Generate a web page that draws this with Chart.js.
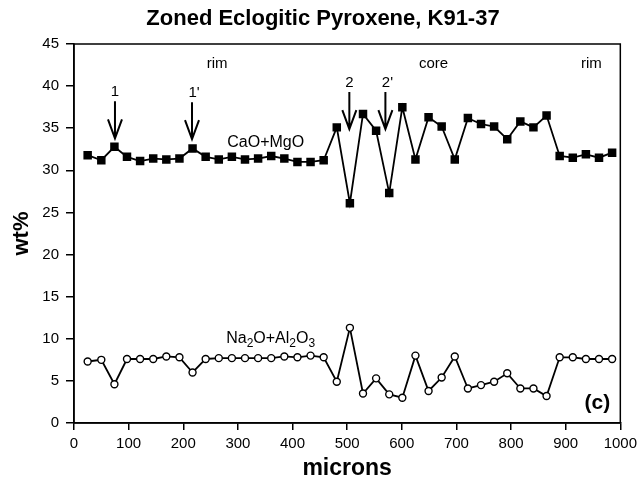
<!DOCTYPE html>
<html>
<head>
<meta charset="utf-8">
<script src="https://cdn.jsdelivr.net/npm/chart.js@4"></script>
<style>
  html, body { margin: 0; padding: 0; background: #fff; }
  #wrap { width: 642px; height: 491px; }
</style>
</head>
<body>
<div id="wrap"><canvas id="myChart" width="642" height="491"></canvas></div>
<script>
// distance along the traverse (microns)
const microns = [25, 50, 74, 97, 121, 145, 169, 193, 217, 241, 265, 289, 313, 337, 361, 385, 409, 433, 457, 481,
    505, 529, 553, 577, 601, 625, 649, 673, 697, 721, 745, 769, 793, 817, 841, 865, 889, 913, 937, 961, 985];

// CaO+MgO, wt%
const caoMgo = [31.8, 31.2, 32.8, 31.6, 31.1, 31.4, 31.3, 31.4, 32.6, 31.6, 31.3, 31.6, 31.3, 31.4, 31.7, 31.4, 31.0, 31.0, 31.2, 35.1,
    26.1, 36.7, 34.7, 27.3, 37.5, 31.3, 36.3, 35.2, 31.3, 36.2, 35.5, 35.2, 33.7, 35.8, 35.1, 36.5, 31.7, 31.5, 31.9, 31.5, 32.1];

// Na2O+Al2O3, wt%
const na2oAl2o3 = [7.3, 7.5, 4.6, 7.6, 7.6, 7.6, 7.9, 7.8, 6.0, 7.6, 7.7, 7.7, 7.7, 7.7, 7.7, 7.9, 7.8, 8.0, 7.8, 4.9,
    11.3, 3.5, 5.3, 3.4, 3.0, 8.0, 3.8, 5.4, 7.9, 4.1, 4.5, 4.9, 5.9, 4.1, 4.1, 3.2, 7.8, 7.8, 7.6, 7.6, 7.6];

// annotations (data coords)
const zoneLabels = ['rim', 'core', 'rim'];
const zoneX = [262, 658, 947];
const arrowLabels = ['1', "1'", '2', "2'"];
const arrowX = [75, 216, 504, 570];
const arrowTip = [33.8, 33.7, 34.9, 34.9];

const FONT = "'Liberation Sans', Helvetica, Arial, sans-serif";

function toPoints(xs, ys) {
    return xs.map((x, i) => ({ x: x, y: ys[i] }));
}

const annotations = {
    id: 'annotations',
    afterDatasetsDraw(chart) {
        const ctx = chart.ctx;
        const xs = chart.scales.x, ys = chart.scales.y;
        const a = chart.chartArea;
        ctx.save();

        // frame
        ctx.strokeStyle = '#000';
        ctx.lineWidth = 1.5;
        ctx.strokeRect(a.left, a.top, a.right - a.left, a.bottom - a.top);

        ctx.fillStyle = '#000';
        ctx.textAlign = 'center';
        ctx.textBaseline = 'middle';

        // zone labels
        ctx.font = '15px ' + FONT;
        zoneLabels.forEach((t, i) => ctx.fillText(t, xs.getPixelForValue(zoneX[i]), ys.getPixelForValue(42.6)));

        // arrows
        arrowLabels.forEach((t, i) => {
            const px = xs.getPixelForValue(arrowX[i]);
            const tip = ys.getPixelForValue(arrowTip[i]);
            const tail = tip - 37;
            ctx.font = '15px ' + FONT;
            ctx.fillText(t, px + (t.length > 1 ? 2 : 0), tail - 9);
            ctx.lineWidth = 2;
            ctx.beginPath();
            ctx.moveTo(px, tail);
            ctx.lineTo(px, tip);
            ctx.moveTo(px - 7, tip - 19);
            ctx.lineTo(px, tip);
            ctx.lineTo(px + 7, tip - 19);
            ctx.stroke();
        });

        // series labels
        ctx.font = '16px ' + FONT;
        ctx.fillText('CaO+MgO', xs.getPixelForValue(351), ys.getPixelForValue(33.3));

        const nx = xs.getPixelForValue(360), ny = ys.getPixelForValue(10.0);
        const parts = [['Na', 0], ['2', 1], ['O+Al', 0], ['2', 1], ['O', 0], ['3', 1]];
        let w = 0;
        parts.forEach(p => { ctx.font = (p[1] ? '12px ' : '16px ') + FONT; w += ctx.measureText(p[0]).width; });
        let cx = nx - w / 2;
        ctx.textAlign = 'left';
        parts.forEach(p => {
            ctx.font = (p[1] ? '12px ' : '16px ') + FONT;
            ctx.fillText(p[0], cx, ny + (p[1] ? 5 : 0));
            cx += ctx.measureText(p[0]).width;
        });

        ctx.textAlign = 'center';
        ctx.font = 'bold 21px ' + FONT;
        ctx.fillText('(c)', xs.getPixelForValue(958), ys.getPixelForValue(2.3));
        ctx.restore();
    }
};

const ctx = document.getElementById('myChart').getContext('2d');
const chart = new Chart(ctx, {
    type: 'line',
    data: {
        datasets: [{
            label: 'CaO+MgO',
            data: toPoints(microns, caoMgo),
            borderColor: '#000',
            backgroundColor: '#000',
            borderWidth: 1.8,
            pointStyle: 'rect',
            pointRadius: 6,
            pointBorderWidth: 0,
            tension: 0
        }, {
            label: 'Na2O+Al2O3',
            data: toPoints(microns, na2oAl2o3),
            borderColor: '#000',
            backgroundColor: '#fff',
            borderWidth: 1.8,
            pointStyle: 'circle',
            pointRadius: 3.5,
            pointBorderWidth: 1.4,
            tension: 0
        }]
    },
    options: {
        responsive: false,
        animation: false,
        // left padding keeps the title centred over the plot like the original
        layout: { padding: { top: 0, right: 20, bottom: 0, left: 24 } },
        plugins: {
            legend: { display: false },
            tooltip: { enabled: false },
            title: {
                display: true,
                text: 'Zoned Eclogitic Pyroxene, K91-37',
                color: '#000',
                font: { family: FONT, size: 22, weight: 'bold' },
                padding: { top: 6, bottom: 11.6 }
            }
        },
        scales: {
            x: {
                type: 'linear',
                min: 0,
                max: 1000,
                ticks: {
                    stepSize: 100, color: '#000', padding: 5,
                    font: { family: FONT, size: 15 },
                    callback: (v) => String(v)
                },
                grid: { drawOnChartArea: false, color: '#000', tickLength: 7, lineWidth: 1.5 },
                border: { color: '#000', width: 1.5 },
                title: {
                    display: true, text: 'microns', color: '#000',
                    font: { family: FONT, size: 23, weight: 'bold' },
                    padding: { top: 0, bottom: 9 }
                },
                afterFit(scale) { scale.height = 68; }
            },
            y: {
                min: 0,
                max: 45,
                ticks: { stepSize: 5, color: '#000', padding: 7, font: { family: FONT, size: 15 } },
                grid: { drawOnChartArea: false, color: '#000', tickLength: 8, lineWidth: 1.5 },
                border: { color: '#000', width: 1.5 },
                title: {
                    display: true, text: 'wt%', color: '#000',
                    font: { family: FONT, size: 22, weight: 'bold' },
                    padding: { top: -15, bottom: 0 }
                },
                afterFit(scale) { scale.width = 50; }
            }
        }
    },
    plugins: [annotations]
});
</script>
</body>
</html>
